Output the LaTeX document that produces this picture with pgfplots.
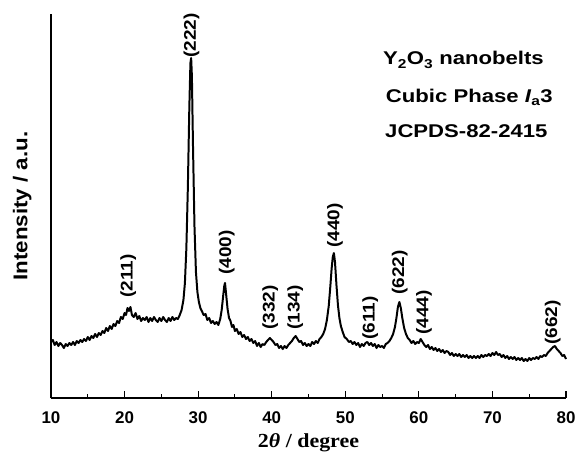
\documentclass[border=0pt]{standalone}
\usepackage{pgfplots}
\pgfplotsset{compat=1.18}
\usepackage{fontspec}
\setmainfont{Liberation Sans}
\newfontfamily\widesans[FakeStretch=1.12]{Liberation Sans}
\newfontfamily\notesans[FakeStretch=1.2]{Liberation Sans}
\newfontfamily\serifb[FakeStretch=1.1]{Liberation Serif}

\begin{document}
\begin{tikzpicture}[
    hkl/.style={rotate=90, anchor=west, inner sep=0pt, font=\widesans\fontsize{17}{18}\selectfont\bfseries},
    note/.style={anchor=base west, inner sep=0pt, font=\notesans\fontsize{18.5}{20}\selectfont\bfseries},
]
\begin{axis}[
    name=ax,
    scale only axis,
    width=515bp, height=384bp,
    xmin=10, xmax=80, ymin=0, ymax=384,
    axis x line*=bottom, axis y line*=left,
    axis line style={line width=1.2pt},
    xtick={10,20,...,80},
    minor xtick={15,25,...,75},
    ytick=\empty,
    tick align=inside,
    major tick length=7bp, minor tick length=4bp,
    tick style={line width=1.1pt, black},
    xticklabels={10,20,30,40,50,60,70,80},
    xticklabel style={font=\fontsize{17}{18}\selectfont\bfseries, yshift=-10bp},
    xlabel={{\serifb\bfseries 2\textit{θ} / degree}},
    xlabel style={font=\fontsize{20}{22}\selectfont, yshift=-3bp},
    ylabel={{\widesans Intensity / a.u.}},
    ylabel style={font=\fontsize{20}{22}\selectfont\bfseries, yshift=16bp},
    clip=false,
]
\addplot[black, line width=2pt, line join=round] coordinates {
(10.00,56) (10.25,58) (10.50,53) (10.75,56) (11.00,52) (11.25,55) (11.50,53) (11.75,50)
(12.00,54) (12.25,52) (12.50,55) (12.75,53) (13.00,56) (13.25,53) (13.50,57) (13.75,55)
(14.00,58) (14.25,56) (14.50,59) (14.75,57) (15.00,61) (15.25,58) (15.50,62) (15.75,60)
(16.00,64) (16.25,61) (16.50,65) (16.75,63) (17.00,67) (17.25,65) (17.50,70) (17.75,67)
(18.00,72) (18.25,69) (18.50,74) (18.75,72) (19.00,77) (19.25,75) (19.50,81) (19.75,79)
(20.00,85) (20.20,83) (20.40,90) (20.60,87) (20.80,91) (21.00,83) (21.25,81) (21.50,85)
(21.75,79) (22.00,82) (22.25,77) (22.50,80) (22.75,78) (23.00,81) (23.25,76) (23.50,80)
(23.75,77) (24.00,81) (24.25,78) (24.50,76) (24.75,80) (25.00,77) (25.25,81) (25.50,78)
(25.75,76) (26.00,80) (26.25,77) (26.50,81) (26.75,78) (27.00,80) (27.25,79) (27.50,83)
(27.75,88) (28.00,98) (28.20,115) (28.40,150) (28.60,210) (28.80,290) (28.95,335) (29.05,340)
(29.15,322) (29.30,252) (29.50,172) (29.70,126) (29.90,106) (30.10,96) (30.30,90) (30.50,87)
(30.75,83) (31.00,84) (31.25,78) (31.50,80) (31.75,75) (32.00,77) (32.25,74) (32.50,76)
(32.75,73) (33.00,79) (33.20,88) (33.40,102) (33.55,112) (33.65,115) (33.80,104) (34.00,89)
(34.20,80) (34.40,77) (34.60,71) (34.80,73) (35.00,67) (35.25,69) (35.50,64) (35.75,66)
(36.00,61) (36.25,63) (36.50,59) (36.75,61) (37.00,57) (37.25,59) (37.50,55) (37.75,57)
(38.00,52) (38.25,55) (38.50,51) (38.75,54) (39.00,53) (39.25,56) (39.50,58) (39.75,60)
(40.00,58) (40.25,56) (40.50,53) (40.75,54) (41.00,50) (41.25,52) (41.50,49) (41.75,52)
(42.00,50) (42.25,53) (42.50,55) (42.75,57) (43.00,60) (43.25,62) (43.50,59) (43.75,56)
(44.00,57) (44.25,53) (44.50,55) (44.75,52) (45.00,54) (45.25,52) (45.50,56) (45.75,54)
(46.00,57) (46.25,55) (46.50,59) (46.75,61) (47.00,64) (47.25,69) (47.50,78) (47.75,92)
(47.95,110) (48.15,130) (48.30,141) (48.45,145) (48.60,136) (48.80,113) (49.00,93) (49.20,80)
(49.40,72) (49.65,66) (49.90,61) (50.20,59) (50.50,56) (50.75,57) (51.00,54) (51.25,56)
(51.50,53) (51.75,55) (52.00,51) (52.25,54) (52.50,52) (52.75,55) (53.00,56) (53.25,53)
(53.50,55) (53.75,52) (54.00,54) (54.25,50) (54.50,53) (54.75,51) (55.00,52) (55.25,50)
(55.50,54) (55.75,55) (56.00,57) (56.25,60) (56.50,64) (56.75,71) (56.95,80) (57.15,91)
(57.35,96) (57.55,90) (57.75,80) (58.00,70) (58.25,64) (58.50,60) (58.75,58) (59.00,55)
(59.25,57) (59.50,54) (59.75,56) (60.00,55) (60.25,59) (60.50,56) (60.75,53) (61.00,51)
(61.25,53) (61.50,49) (61.75,51) (62.00,48) (62.25,50) (62.50,47) (62.75,49) (63.00,46)
(63.25,48) (63.50,45) (63.75,47) (64.00,46) (64.25,43) (64.50,45) (64.75,42) (65.00,44)
(65.25,42) (65.50,44) (65.75,41) (66.00,43) (66.25,41) (66.50,43) (66.75,40) (67.00,42)
(67.25,40) (67.50,42) (67.75,40) (68.00,42) (68.25,40) (68.50,43) (68.75,41) (69.00,43)
(69.25,42) (69.50,44) (69.75,42) (70.00,45) (70.25,43) (70.50,46) (70.75,43) (71.00,44)
(71.25,41) (71.50,43) (71.75,40) (72.00,42) (72.25,39) (72.50,41) (72.75,39) (73.00,41)
(73.25,38) (73.50,40) (73.75,38) (74.00,40) (74.25,37) (74.50,39) (74.75,37) (75.00,40)
(75.25,38) (75.50,40) (75.75,39) (76.00,41) (76.25,39) (76.50,42) (76.75,41) (77.00,43)
(77.25,42) (77.50,45) (77.75,47) (78.00,49) (78.25,51) (78.50,52) (78.75,49) (79.00,47)
(79.25,45) (79.50,42) (79.75,43) (80.00,39)
};
% peak indices
\node[hkl] at (axis cs:20.5,100) {(211)};
\node[hkl] at (axis cs:29.1,340) {(222)};
\node[hkl] at (axis cs:33.9,123) {(400)};
\node[hkl] at (axis cs:39.8,68) {(332)};
\node[hkl] at (axis cs:43.2,68) {(134)};
\node[hkl] at (axis cs:48.6,150) {(440)};
\node[hkl] at (axis cs:53.4,58) {(611)};
\node[hkl] at (axis cs:57.4,103) {(622)};
\node[hkl] at (axis cs:60.7,63) {(444)};
\node[hkl] at (axis cs:78.2,53) {(662)};
% sample notes
\node[note] at (axis cs:55.1,333) {Y\textsubscript{2}O\textsubscript{3} nanobelts};
\node[note] at (axis cs:55.5,295) {Cubic Phase \textit{I}\textsubscript{a}3};
\node[note] at (axis cs:55.4,260) {JCPDS-82-2415};
\end{axis}
\pgfresetboundingbox
\path[use as bounding box] ([xshift=-51bp,yshift=-55bp]ax.south west) rectangle ([xshift=10bp,yshift=14bp]ax.north east);
\end{tikzpicture}
\end{document}
